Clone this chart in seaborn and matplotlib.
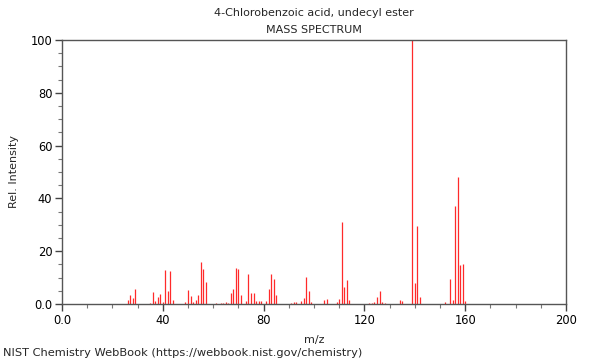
import numpy as np
import seaborn as sns
from matplotlib import pyplot as plt
from matplotlib.ticker import MultipleLocator, FuncFormatter

# Mass spectrum peaks (m/z, relative intensity)
mz = [26, 27, 28, 29, 35, 36, 37, 38, 39, 40, 41, 42, 43, 44,
      49, 50, 51, 52, 53, 54, 55, 56, 57, 61, 63, 64, 65, 66, 67, 68, 69, 70,
      71, 73, 74, 75, 76, 77, 78, 79, 81, 82, 83, 84, 85, 91, 92, 93,
      95, 96, 97, 98, 99, 104, 105, 109, 110, 111, 112, 113, 114,
      122, 123, 124, 125, 126, 127, 128, 134, 135, 139, 140, 141, 142,
      152, 154, 155, 156, 157, 158, 159, 160]
intensity = [1.5, 3.4, 2.3, 5.7, 0.5, 4.5, 1.2, 2.6, 3.8, 0.8, 12.9, 4.8, 12.4, 1.6,
             0.8, 5.3, 2.9, 0.6, 1.4, 3.4, 15.9, 13.3, 8.3, 0.4, 0.5, 0.5, 0.8, 0.5, 4.3, 5.6, 13.6, 13.3,
             3.4, 1.1, 11.2, 4.2, 4.0, 1.0, 1.3, 1.1, 1.1, 5.7, 11.5, 9.6, 3.3, 0.5, 0.8, 0.6,
             1.1, 2.3, 10.1, 5.1, 0.6, 1.5, 2.0, 0.8, 2.0, 31.0, 6.6, 9.1, 1.4,
             0.5, 0.5, 0.8, 2.5, 4.9, 0.6, 0.5, 1.5, 1.0, 100.0, 7.8, 29.5, 2.5,
             0.6, 9.5, 1.5, 37.1, 48.2, 14.8, 15.2, 1.0]

title = '4-Chlorobenzoic acid, undecyl ester'
subtitle = 'MASS SPECTRUM'
credit = 'NIST Chemistry WebBook (https://webbook.nist.gov/chemistry)'

sns.set_style('ticks')
plt.rcParams['font.family'] = ['DejaVu Sans']

fig = plt.figure(figsize=(6, 3.6), dpi=100)
ax = fig.add_axes([62 / 600, 1 - 304 / 360, 504 / 600, 264 / 360])

ax.vlines(mz, 0, intensity, color='#ff2a2a', linewidth=0.9)

ax.set_xlim(0, 200)
ax.set_ylim(0, 100)
ax.xaxis.set_major_locator(MultipleLocator(40))
ax.xaxis.set_minor_locator(MultipleLocator(10))
ax.yaxis.set_major_locator(MultipleLocator(20))
ax.yaxis.set_minor_locator(MultipleLocator(5))
fmt = FuncFormatter(lambda v, p: '0.0' if v == 0 else f'{v:.0f}')
ax.xaxis.set_major_formatter(fmt)
ax.yaxis.set_major_formatter(fmt)

for s in ax.spines.values():
    s.set_visible(True)
    s.set_color('#555555')
    s.set_linewidth(1)
ax.tick_params(which='major', direction='out', length=5, width=1, color='#444444',
               labelsize=8.3, labelcolor='black', pad=2)
ax.tick_params(which='minor', direction='out', length=3, width=0.8, color='#777777')

ax.set_xlabel('m/z', fontsize=8, labelpad=6)
ax.set_ylabel('Rel. Intensity', fontsize=8, labelpad=8)

fig.text(314 / 600, 1 - 13 / 360, title, ha='center', va='center', fontsize=8)
fig.text(314 / 600, 1 - 30 / 360, subtitle, ha='center', va='center', fontsize=8)
fig.text(3 / 600, 1 - 353 / 360, credit, ha='left', va='center', fontsize=8.2)

fig.savefig('out.png', dpi=100)
